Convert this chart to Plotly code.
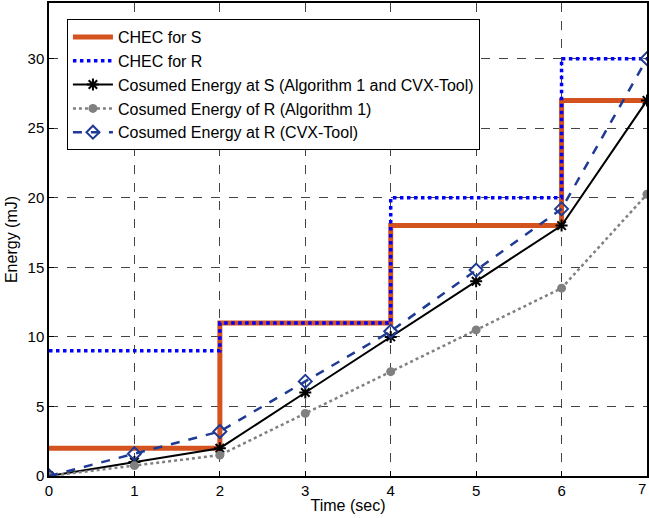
import plotly.graph_objects as go

time = [0, 1, 2, 3, 4, 5, 6, 7]
step_x = [0, 2, 2, 4, 4, 6, 6, 7]
chec_s = [2, 2, 11, 11, 18, 18, 27, 27]
chec_r = [9, 9, 11, 11, 20, 20, 30, 30]
energy_s = [0, 1, 2, 6, 10, 14, 18, 27]
energy_r_alg = [0, 0.75, 1.5, 4.5, 7.5, 10.5, 13.5, 20.25]
energy_r_cvx = [0, 1.6, 3.2, 6.8, 10.4, 14.8, 19.2, 30]
x_ticks = [0, 1, 2, 3, 4, 5, 6, 7]
y_ticks = [0, 5, 10, 15, 20, 25, 30]

FONT = "Liberation Sans, Arial, Helvetica, sans-serif"

fig = go.Figure()
fig.add_trace(go.Scatter(x=step_x, y=chec_s, mode="lines", name="CHEC for S",
                         line=dict(color="#D4521E", width=5)))
fig.add_trace(go.Scatter(x=step_x, y=chec_r, mode="lines", name="CHEC for R",
                         line=dict(color="#0000FF", width=3.5, dash="dot")))
fig.add_trace(go.Scatter(x=time, y=energy_s, mode="lines+markers",
                         name="Cosumed Energy at S (Algorithm 1 and CVX-Tool)",
                         line=dict(color="black", width=2),
                         marker=dict(symbol="asterisk-open", size=10, color="black",
                                     line=dict(color="black", width=2))))
fig.add_trace(go.Scatter(x=time, y=energy_r_alg, mode="lines+markers",
                         name="Cosumed Energy of R (Algorithm 1)",
                         line=dict(color="#808080", width=2.5, dash="dot"),
                         marker=dict(symbol="circle", size=9, color="#808080")))
fig.add_trace(go.Scatter(x=time, y=energy_r_cvx, mode="lines+markers",
                         name="Cosumed Energy at R (CVX-Tool)",
                         line=dict(color="#1F3A93", width=2.5, dash="dash"),
                         marker=dict(symbol="diamond-open", size=10, color="#1F3A93",
                                     line=dict(color="#1F3A93", width=2))))

axis_common = dict(
    showline=True, linecolor="black", linewidth=1.5, mirror=True,
    ticks="inside", ticklen=5, tickcolor="black",
    showgrid=True, gridcolor="#444444", griddash="dash", gridwidth=1,
    zeroline=False, tickfont=dict(family=FONT, size=15, color="black"),
)

fig.update_xaxes(range=[0, 7], tickvals=x_ticks[:-1],
                 title=dict(text="Time (sec)", font=dict(family=FONT, size=16, color="black"),
                            standoff=2), **axis_common)
fig.update_yaxes(range=[0, 34], tickvals=y_ticks,
                 title=dict(text="Energy (mJ)", font=dict(family=FONT, size=16, color="black"),
                            standoff=6), **axis_common)

# last x tick label sits at the right figure edge
fig.add_annotation(x=x_ticks[-1], y=0, xref="x", yref="paper", text=str(x_ticks[-1]),
                   showarrow=False, yanchor="top", xanchor="right", yshift=-2, xshift=1,
                   font=dict(family=FONT, size=15, color="black"))

fig.update_layout(
    width=649, height=518,
    margin=dict(l=49, r=0, t=3, b=42),
    paper_bgcolor="white", plot_bgcolor="white",
    font=dict(family=FONT, color="black"),
    showlegend=True,
    legend=dict(x=0.03, y=0.966, xanchor="left", yanchor="top",
                bgcolor="white", bordercolor="black", borderwidth=1,
                font=dict(family=FONT, size=16, color="black"),
                tracegroupgap=0, itemwidth=40),
)

fig.write_html("out.html", config={"displayModeBar": False},
               post_script="document.body.style.margin='0';document.body.style.overflow='hidden';")
